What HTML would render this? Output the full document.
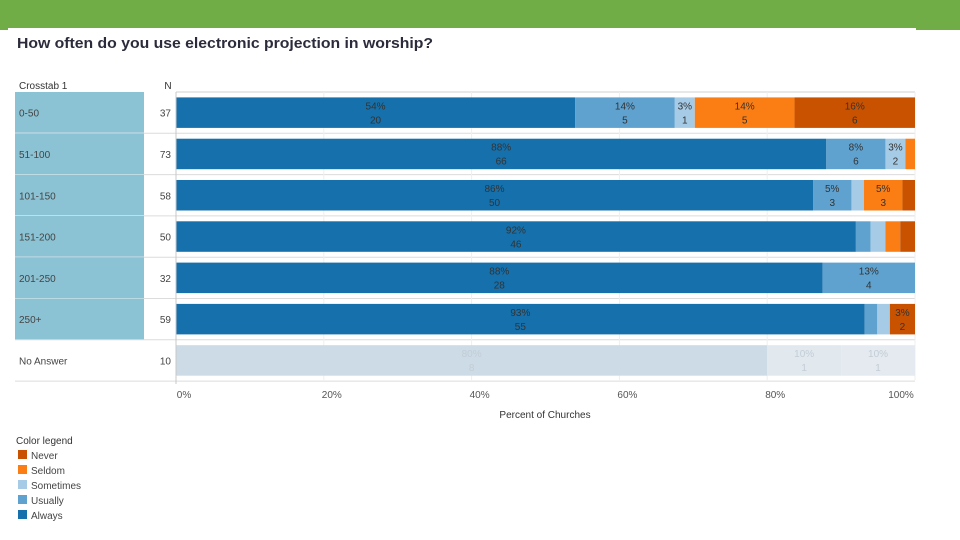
<!DOCTYPE html>
<html><head><meta charset="utf-8"><style>
body{margin:0;width:960px;height:540px;background:#fff;font-family:"Liberation Sans",sans-serif;overflow:hidden;position:relative}
svg{position:absolute;left:0;top:0}
</style></head><body>
<svg width="960" height="540">
<rect x="0" y="0" width="960" height="28" fill="#70ad47"/>
<rect x="0" y="0" width="8" height="30" fill="#70ad47"/>
<rect x="916" y="0" width="44" height="30" fill="#70ad47"/>
<text x="17" y="48" font-size="15" font-weight="bold" fill="#2b2b3b" textLength="416" lengthAdjust="spacingAndGlyphs">How often do you use electronic projection in worship?</text>
<text x="19" y="89" font-size="10" fill="#333">Crosstab 1</text>
<text x="168" y="89" font-size="10" fill="#333" text-anchor="middle">N</text>
<g id="rows"></g>
<g id="grid"></g>
<g id="bars"></g>
<g id="axis"></g>
<text x="545" y="418" font-size="10" fill="#333" text-anchor="middle">Percent of Churches</text>
<g id="legend"></g>
</svg>
<script>
const categories=["0-50","51-100","101-150","151-200","201-250","250+","No Answer"];
const nValues=[37,73,58,50,32,59,10];
const seriesNames=["Always","Usually","Sometimes","Seldom","Never"];
const always=[0.54,0.88,0.862,0.92,0.875,0.932,0.8];
const usually=[0.135,0.08,0.052,0.02,0.125,0.017,0.1];
const sometimes=[0.027,0.027,0.017,0.02,0,0.017,0.1];
const seldom=[0.135,0.013,0.052,0.02,0,0,0];
const never=[0.163,0,0.017,0.02,0,0.034,0];
const alwaysN=[20,66,50,46,28,55,8];
const usuallyN=[5,6,3,1,4,1,1];
const sometimesN=[1,2,1,1,0,1,1];
const seldomN=[5,1,3,1,0,0,0];
const neverN=[6,0,1,1,0,2,0];
const ticks=[0,0.2,0.4,0.6,0.8,1.0];
const tickLabels=["0%","20%","40%","60%","80%","100%"];

const NS="http://www.w3.org/2000/svg";
const X0=176,X1=915,TOP=92,PITCH=41.3,BH=30.5;
const xs=v=>X0+v*(X1-X0);
const rowY=i=>TOP+i*PITCH;
const colors=["#1670ab","#5fa2cf","#a6cbe6","#fb7e14","#c85200"];
const naColors=["#ccdbe6","#e1e8ee","#e4eaef"];
function mk(tag,attrs,parent,txt){const e=document.createElementNS(NS,tag);for(const k in attrs)e.setAttribute(k,attrs[k]);if(txt!==undefined)e.textContent=txt;parent.appendChild(e);return e;}
const rowsG=document.getElementById('rows'),gridG=document.getElementById('grid'),barsG=document.getElementById('bars'),axisG=document.getElementById('axis'),legG=document.getElementById('legend');
const series=[always,usually,sometimes,seldom,never];
const counts=[alwaysN,usuallyN,sometimesN,seldomN,neverN];

categories.forEach((c,i)=>{
  const y=rowY(i);
  const na=c==="No Answer";
  if(!na){
    const r=mk('rect',{x:15,y:y,width:129,height:PITCH,fill:'#8cc3d4'},rowsG);
    
    
  }
  const sep=mk('line',{x1:15,x2:X1,y1:y+PITCH,y2:y+PITCH,stroke:'#dcdcdc','stroke-width':1},rowsG);
  
  
  if(i<5){
    const ws=mk('line',{x1:15,x2:144,y1:y+PITCH,y2:y+PITCH,stroke:'#e8f2f5','stroke-width':1},rowsG);
    
    
  }
  const t=mk('text',{x:19,y:y+PITCH/2+4,'font-size':10,fill:'#444'},rowsG,c);
  
  
  const n=mk('text',{x:171,y:y+PITCH/2+4,'font-size':10,fill:'#444','text-anchor':'end'},rowsG,nValues[i]);
  
  
  let acc=0;
  series.forEach((s,k)=>{
    const v=s[i];if(v<=0)return;
    const bx=xs(acc),bw=xs(acc+v)-bx,by=y+(PITCH-BH)/2;
    const col=na?(naColors[k]||naColors[2]):colors[k];
    const b=mk('rect',{x:bx,y:by,width:bw,height:BH,fill:col},barsG);
    
    
    if(v>=0.025){
      const tc=na?'#c3cdd6':'#333';
      const p=mk('text',{x:bx+bw/2,y:by+12,'font-size':10,fill:tc,'text-anchor':'middle'},barsG,Math.round(v*100)+'%');
      
      
      const q=mk('text',{x:bx+bw/2,y:by+26,'font-size':10,fill:tc,'text-anchor':'middle'},barsG,counts[k][i]);
      
      
    }
    acc+=v;
  });
});
const topL=mk('line',{x1:X0,x2:X1,y1:TOP,y2:TOP,stroke:'#d0d0d0'},gridG);


const yl=mk('line',{x1:X0,x2:X0,y1:TOP,y2:384,stroke:'#c8c8c8'},axisG);


ticks.forEach((t,i)=>{
  const gl=mk('line',{x1:xs(t),x2:xs(t),y1:TOP,y2:380,stroke:'#efefef'},gridG);
  
  
  const tl=mk('text',{x:xs(t)+(i===5?-14:8),y:398,'font-size':10,fill:'#555','text-anchor':'middle'},axisG,tickLabels[i]);
  
  
});
const lt=mk('text',{x:16,y:444,'font-size':10,fill:'#333'},legG,'Color legend');


const legOrder=[4,3,2,1,0];
legOrder.forEach((k,j)=>{
  const y=450+j*15;
  const sw=mk('rect',{x:18,y:y,width:9,height:9,fill:colors[k]},legG);
  
  
  const lx=mk('text',{x:31,y:y+9,'font-size':10,fill:'#444'},legG,seriesNames[k]);
  
  
});
</script>
</body></html>
